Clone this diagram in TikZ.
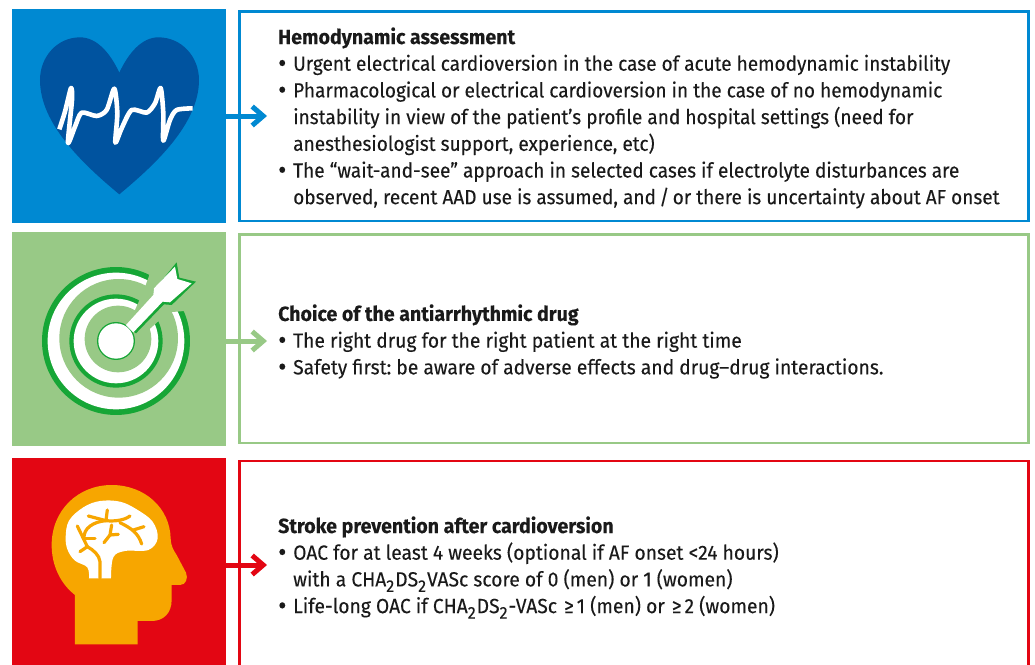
\documentclass[tikz,border=0pt]{standalone}
\usepackage{fontspec}
\setmainfont[FakeStretch=0.94,FakeBold=0.12,BoldFeatures={FakeStretch=0.955}]{Fira Sans}
\newfontfamily\tightfont[FakeStretch=0.93,FakeBold=0.12,BoldFeatures={FakeStretch=0.955}]{Fira Sans}
\usetikzlibrary{arrows.meta}
\definecolor{cblue}{HTML}{0089D2}\definecolor{cblued}{HTML}{00539F}
\definecolor{cgreen}{HTML}{98C986}\definecolor{cgreend}{HTML}{16A636}
\definecolor{cred}{HTML}{E30613}\definecolor{corange}{HTML}{F7A600}
\definecolor{txt}{HTML}{1A1A1A}
\newcommand{\bl}{\hbox to 15pt{\raisebox{-1.5pt}{\fontsize{27}{27}\selectfont •}\hfil}}
\newcommand{\ind}{\hspace*{15pt}}
\newcommand{\subtwo}{\raisebox{-5.5pt}{\fontsize{17}{17}\selectfont 2}\kern1pt}
\newcommand{\gequal}{\kern2pt≥\kern3pt}
\tikzset{
  panel/.style={anchor=north west,inner sep=0pt,minimum width=214pt},
  textbox/.style={anchor=north west,inner sep=0pt,draw,line width=2.5pt,fill=white,minimum width=789pt},
  body/.style={anchor=west,inner sep=0pt,align=left,text=txt,font=\fontsize{20.5}{26.7}\selectfont\frenchspacing},
  link/.style={line width=5pt,-{Straight Barb[length=11pt,width=19pt,line width=5pt]}},
  icon/.style={x=.3333pt,y=-.3333pt},
}
\begin{document}
\begin{tikzpicture}[x=1pt,y=-1pt]
\clip (0,0) rectangle (1035,664);
\fill[white] (0,0) rectangle (1035,664);
% panels
\node[panel,fill=cblue,minimum height=214pt] (p1) at (12,9) {};
\node[panel,fill=cgreen,minimum height=214pt] (p2) at (12,232) {};
\node[panel,fill=cred,minimum height=220pt] (p3) at (12,458) {};
\node[textbox,draw=cblue,minimum height=209.5pt] (b1) at (238,10) {};
\node[textbox,draw=cgreen,minimum height=208.5pt] (b2) at (238,233) {};
\node[textbox,draw=cred,minimum height=220pt] (b3) at (238,459.5) {};
% connectors
\coordinate (t1) at (267,116);\coordinate (t2) at (267,341);\coordinate (t3) at (267,565);
\draw[link,cblue] (p1.east |- t1) -- (t1);
\draw[link,cgreen] (p2.east |- t2) -- (t2);
\draw[link,cred] (p3.east |- t3) -- (t3);
% heart
\begin{scope}[icon]
\fill[cblued] (358,218) .. controls (385,160) and (425,112) .. (475,112)
  .. controls (545,112) and (597,170) .. (597,240)
  .. controls (597,370) and (470,490) .. (358,583)
  .. controls (246,490) and (120,370) .. (120,240)
  .. controls (120,170) and (172,112) .. (240,112)
  .. controls (291,112) and (331,160) .. (358,218) -- cycle;
\draw[white,line width=4.6pt,line join=round] plot[smooth,tension=.45] coordinates {(178,388)(195,335)(213,264)(216,300)(204,428)(225,380)(245,338)(290,348)(320,330)(343,266)(352,340)(346,428)(365,385)(395,330)(440,338)(465,310)(482,264)(490,340)(490,422)(510,360)(530,330)(578,325)};
\end{scope}
% target
\begin{scope}[shift={(0,225)},icon]
\fill[cgreend] (348,348) circle[radius=222];
\fill[white] (348,348) circle[radius=205];
\fill[cgreen] (356,340) circle[radius=178];
\fill[cgreend] (348,348) circle[radius=140];
\fill[white] (348,348) circle[radius=127];
\fill[cgreen] (354,342) circle[radius=100];
\fill[cgreen] (385,300) -- (432,195) -- (448,150) -- (590,150) -- (590,255) -- (505,262) -- (440,320) -- cycle;
\fill[cgreend] (348,348) circle[radius=57];
\fill[cgreend] (380,305) -- (462,215) -- (462,195) -- (530,112) -- (538,158) -- (588,170) -- (515,240) -- (492,238) -- (408,325) -- cycle;
\fill[white] (348,348) circle[radius=53];
\fill[white] (378,300) -- (460,210) -- (462,190) -- (525,125) -- (532,162) -- (575,175) -- (510,232) -- (488,230) -- (400,322) -- cycle;
\end{scope}
% head
\begin{scope}[shift={(0,450)},icon]
\fill[corange] (225,583) -- (225,435) .. controls (180,400) and (155,345) .. (155,285)
  .. controls (155,180) and (235,105) .. (335,105)
  .. controls (435,105) and (510,175) .. (512,265)
  .. controls (512,285) and (520,300) .. (530,315)
  -- (558,368) .. controls (565,385) and (558,405) .. (540,405) -- (515,405) -- (515,450)
  .. controls (515,490) and (490,513) .. (455,513) -- (413,513) -- (413,583) -- cycle;
\fill[white] plot[smooth,tension=.6] coordinates {(267,385)(262,352)(225,332)(203,300)(197,262)(207,212)(250,172)(300,153)(360,155)(410,178)(458,215)(473,265)(445,300)(375,303)(340,322)(333,385)} -- cycle;
\begin{scope}[line width=3.2pt,line cap=round]
\draw[corange] (300,385) -- (300,335) .. controls (298,315) and (280,300) .. (262,290) -- (240,305);
\draw[corange] (262,290) .. controls (250,265) and (245,255) .. (232,228);
\draw[corange] (252,265) -- (285,265);
\draw[corange] (252,265) .. controls (250,235) and (280,215) .. (318,212) .. controls (345,215) and (375,210) .. (390,198);
\draw[corange] (318,212) -- (322,180);
\draw[corange] (318,212) -- (265,198);
\draw[corange] (335,225) -- (330,255) -- (312,278);
\draw[corange] (330,255) -- (355,253);
\draw[corange] (360,218) .. controls (395,235) and (415,250) .. (425,282);
\draw[corange] (400,240) -- (432,230);
\end{scope}
\end{scope}
% text
\node[body,font=\fontsize{20.5}{26.7}\tightfont\selectfont\frenchspacing] (x1) at (278,118) {\textbf{Hemodynamic assessment}\\
\bl Urgent electrical cardioversion in the case of acute hemodynamic instability\\
\bl Pharmacological or electrical cardioversion in the case of no hemodynamic\\
\ind instability in view of the patient’s profile and hospital settings (need for\\
\ind anesthesiologist support, experience, etc)\\
\bl The “wait-and-see” approach in selected cases if electrolyte disturbances are\\
\ind observed, recent AAD use is assumed, and\,/\,or there is uncertainty about AF onset};
\node[body] (x2) at (278,341.5) {\textbf{Choice of the antiarrhythmic drug}\\
\bl The right drug for the right patient at the right time\\
\bl Safety first: be aware of adverse effects and drug–drug interactions.};
\node[body] (x3) at (278,567.5) {\textbf{Stroke prevention after cardioversion}\\
\bl OAC for at least 4 weeks (optional if AF onset <24 hours)\\
\ind with a CHA\subtwo DS\subtwo VASc score of 0 (men) or 1 (women)\\
\bl Life-long OAC if CHA\subtwo DS\subtwo-VASc \gequal 1 (men) or \gequal 2 (women)};
\end{tikzpicture}
\end{document}
